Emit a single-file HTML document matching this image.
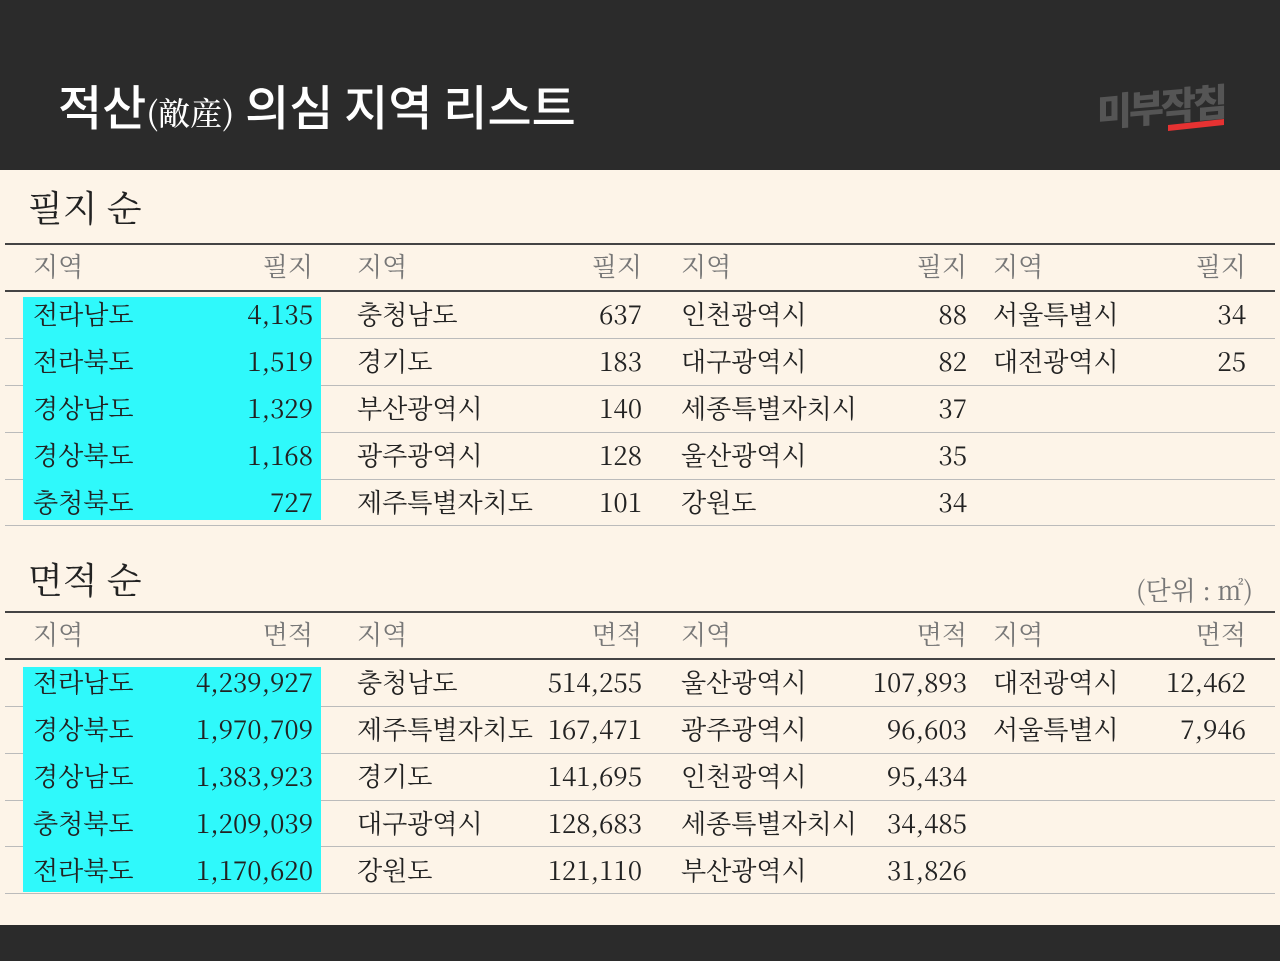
<!DOCTYPE html><html><head><meta charset="utf-8"><style>
body{margin:0;width:1280px;height:961px;background:#fdf4e8;position:relative;overflow:hidden;font-family:"Noto Serif CJK SC","Liberation Serif",serif;color:#222}
.hd{position:absolute;left:0;top:0;width:1280px;height:170px;background:#2b2b2b}
.ft{position:absolute;left:0;top:925px;width:1280px;height:36px;background:#2b2b2b}
.t{position:absolute;white-space:nowrap;line-height:1}
.r{text-align:right}
.ln{position:absolute;left:5px;width:1270px;background:#444}
.sl{position:absolute;left:5px;width:1270px;height:1px;background:#bbb}
.cy{position:absolute;left:23px;width:298px;background:#2ff9fb}
.h{color:#777}
</style></head><body>
<div class="hd"></div><div class="ft"></div>
<div class="t" style="left:58px;top:80px;font-size:48px;color:#fff;font-family:'Noto Sans CJK KR',sans-serif;font-weight:500">적산<span style="font-size:32px;font-family:'Noto Serif CJK SC',serif">(敵産)</span> 의심 지역 리스트</div>
<div class="t" style="left:1097px;top:86px;font-size:38px;font-weight:900;color:#555;font-family:'Noto Sans CJK KR',sans-serif;letter-spacing:-3px;transform:skewY(-5deg)">미부작침</div>
<div style="position:absolute;left:1168px;top:122px;width:56px;height:6px;background:#e63232;transform:skewY(-6deg)"></div>
<div class="t" style="left:28px;top:189px;font-size:36px">필지 순</div>
<div class="t" style="left:28px;top:561px;font-size:36px">면적 순</div>
<div class="t" style="left:1136px;top:577px;font-size:26px;color:#777">(단위 : ㎡)</div>
<div class="ln" style="top:243px;height:2px"></div><div class="ln" style="top:290px;height:2px"></div>
<div class="ln" style="top:611px;height:2px"></div><div class="ln" style="top:658px;height:2px"></div>
<div class="sl" style="top:338px"></div><div class="sl" style="top:385px"></div><div class="sl" style="top:432px"></div><div class="sl" style="top:479px"></div><div class="sl" style="top:525px"></div>
<div class="sl" style="top:706px"></div><div class="sl" style="top:753px"></div><div class="sl" style="top:800px"></div><div class="sl" style="top:846px"></div><div class="sl" style="top:893px"></div>
<div class="cy" style="top:297px;height:223px"></div>
<div class="cy" style="top:667px;height:225px"></div>
<div id="c"></div>
<script>
var xs=[33,357,681,993],rs=[313,642,967,1246];
function tb(y0,hd,rows){var h='';
for(var c=0;c<4;c++){h+='<div class="t h" style="left:'+xs[c]+'px;top:'+(y0-14)+'px;font-size:26px">지역</div>';
h+='<div class="t h r" style="left:'+(rs[c]-100)+'px;width:100px;top:'+(y0-14)+'px;font-size:26px">'+hd+'</div>';}
rows.forEach(function(r,i){var y=y0+48+i*47-14;for(var c=0;c<4;c++){if(!r[c*2])continue;
h+='<div class="t" style="left:'+xs[c]+'px;top:'+y+'px;font-size:26px">'+r[c*2]+'</div>';
h+='<div class="t r" style="left:'+(rs[c]-140)+'px;width:140px;top:'+y+'px;font-size:26px">'+r[c*2+1]+'</div>';}});return h;}
document.getElementById('c').innerHTML=tb(267,'필지',[
['전라남도','4,135','충청남도','637','인천광역시','88','서울특별시','34'],
['전라북도','1,519','경기도','183','대구광역시','82','대전광역시','25'],
['경상남도','1,329','부산광역시','140','세종특별자치시','37'],
['경상북도','1,168','광주광역시','128','울산광역시','35'],
['충청북도','727','제주특별자치도','101','강원도','34']])+tb(635,'면적',[
['전라남도','4,239,927','충청남도','514,255','울산광역시','107,893','대전광역시','12,462'],
['경상북도','1,970,709','제주특별자치도','167,471','광주광역시','96,603','서울특별시','7,946'],
['경상남도','1,383,923','경기도','141,695','인천광역시','95,434'],
['충청북도','1,209,039','대구광역시','128,683','세종특별자치시','34,485'],
['전라북도','1,170,620','강원도','121,110','부산광역시','31,826']]);
</script>
</body></html>
